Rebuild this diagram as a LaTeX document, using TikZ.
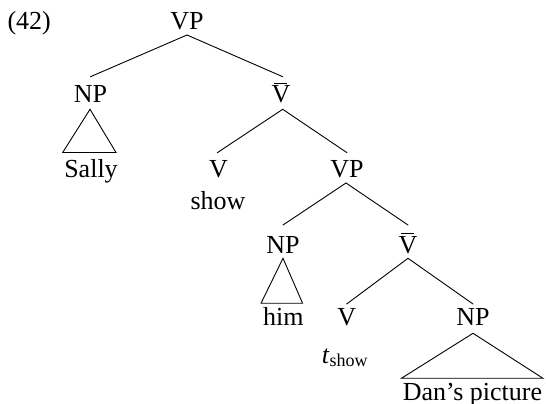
\documentclass[tikz,border=0pt]{standalone}
\usepackage{fontspec}
\setmainfont{Liberation Serif}
\newcommand{\myVbar}{\makebox[0pt][l]{\hspace{2.8pt}\rule[19pt]{13pt}{1.2pt}}V}
\begin{document}
\begin{tikzpicture}[x=1pt,y=1pt,
  lab/.style={anchor=base,inner sep=0pt,font=\fontsize{26}{31}\selectfont},
  edge/.style={line width=0.9pt,line cap=round},
  tri/.style={line width=0.9pt,line join=miter}]
\useasboundingbox (0,0) rectangle (546,404);
% labels
\node[lab,anchor=base west] (ex) at (7.3,374) {(42)};
\node[lab] (vp0) at (187,374.5) {VP};
\node[lab] (np1) at (90.5,301) {NP};
\node[lab] (vb1) at (281,301) {\myVbar};
\node[lab] (sally) at (91,226) {Sally};
\node[lab] (v2) at (218.5,226) {V};
\node[lab] (vp2) at (347,226) {VP};
\node[lab] (show) at (218,194) {show};
\node[lab] (np3) at (283,150.7) {NP};
\node[lab] (vb3) at (408,150.7) {\myVbar};
\node[lab] (him) at (283.3,78) {him};
\node[lab] (v4) at (346.7,78) {V};
\node[lab] (np4) at (473,78) {NP};
\node[lab,anchor=base west] (tshow) at (321.7,40) {\textit{t}\raisebox{-3pt}{\fontsize{18}{20}\selectfont show}};
\node[lab] (dan) at (472.5,3) {Dan’s picture};
% branches
\draw[edge] ([yshift=-5.5pt]vp0.base) -- ([yshift=26.3pt]np1.base);
\draw[edge] ([yshift=-5.5pt]vp0.base) -- ([xshift=1.7pt,yshift=26.3pt]vb1.base);
\draw[edge] ([xshift=1.7pt,yshift=-6.3pt]vb1.base) -- ([xshift=-1.2pt,yshift=25.3pt]v2.base);
\draw[edge] ([xshift=1.7pt,yshift=-6.3pt]vb1.base) -- ([yshift=25.3pt]vp2.base);
\draw[edge] ([xshift=-1pt,yshift=-5pt]vp2.base) -- ([yshift=28.3pt]np3.base);
\draw[edge] ([xshift=-1pt,yshift=-5pt]vp2.base) -- ([yshift=28.3pt]vb3.base);
\draw[edge] ([yshift=-5pt]vb3.base) -- ([yshift=22pt]v4.base);
\draw[edge] ([yshift=-5pt]vb3.base) -- ([yshift=22pt]np4.base);
% triangles
\coordinate (t1) at ([xshift=-0.5pt,yshift=-6.3pt]np1.base);
\draw[tri] (t1) -- ++(-27.3,-43.2) -- ++(53.3,0) -- cycle;
\coordinate (t3) at ([yshift=-5pt]np3.base);
\draw[tri] (t3) -- ++(-22,-45) -- ++(41.6,0) -- cycle;
\coordinate (t4) at ([yshift=-7.3pt]np4.base);
\draw[tri] (t4) -- ++(-71.6,-45) -- ++(141.6,0) -- cycle;
\end{tikzpicture}
\end{document}
